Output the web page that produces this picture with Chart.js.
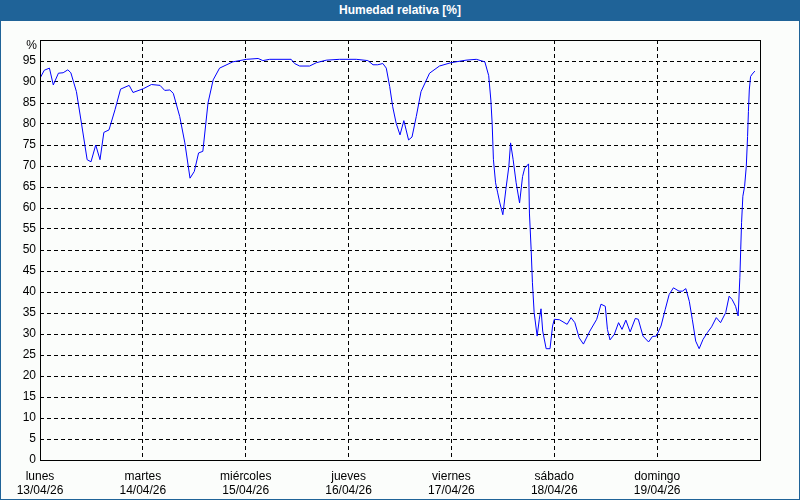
<!DOCTYPE html>
<html>
<head>
<meta charset="utf-8">
<script src="https://cdn.jsdelivr.net/npm/chart.js@4"></script>
<style>
    html, body { margin: 0; padding: 0; background: #fbfdfb; }
    #frame {
        position: absolute; left: 0; top: 0;
        width: 800px; height: 500px; box-sizing: border-box;
        border: 1px solid #1f6398; border-top: none;
        background: #fbfdfb;
    }
    #title {
        position: absolute; left: -1px; top: 0; width: 800px; height: 21px;
        background: #1f6398; color: #ffffff;
        font: bold 12px "Liberation Sans", Arial, sans-serif;
        text-align: center; line-height: 21px;
    }
    #chart { position: absolute; left: 0; top: 21px; }
</style>
</head>
<body>
<div id="frame">
    <div id="title">Humedad relativa [%]</div>
    <canvas id="chart" width="798" height="478"></canvas>
</div>
<script>
// hours since Monday 13/04/26 00:00
const hours = [
    0, 1, 2.2, 3.1, 4.3, 5.4, 6.5, 7.2, 8.5, 9.7, 11, 11.9, 13, 14, 14.9, 16.1, 17.5, 18.8, 20.8, 21.7,
    24.1, 26, 28, 29.1, 30.3, 31.1, 32.6, 33.8, 35, 36, 37, 38, 39.2, 40.4, 41.9, 45,
    48.2, 50.9, 52, 53.6, 58.6, 59.4, 60.6, 62.9, 64.5, 66.8, 69.9,
    73.8, 76.5, 77.7, 78.8, 80, 80.8, 81.6, 82.3, 83.1, 84, 84.9, 86, 86.8, 87.8, 88.9, 90.9, 93.2, 95.9,
    99.4, 101.8, 103.8, 104.7, 105.2, 105.5, 105.8, 106.3, 106.8, 107.3, 108, 108.7, 109.4, 109.8,
    110.4, 111.1, 111.9, 112.6, 113.1, 114, 114.2, 114.6, 114.9, 115.3, 116, 116.5, 116.9, 117.3,
    118.1, 119, 119.6, 120, 121.2, 123, 123.9, 124.8, 125.8, 126.8, 128.3, 129.9, 130.9, 131.9,
    132.4, 133, 134, 135, 135.8, 136.7, 137.7, 138.9, 139.6, 140.7, 142, 142.9, 143.8,
    144.9, 145.9, 146.8, 147.8, 149.1, 149.9, 150.7, 151.5, 152.2, 153, 153.8, 154.7, 155.7,
    156.7, 157.8, 158.8, 160, 160.8, 161.5, 162.3, 162.9, 163.3, 163.5, 163.7, 164, 164.4,
    164.8, 165.1, 165.3, 165.5, 165.8, 166.2, 166.8
];

const humidity = [
    90.9, 92.8, 93.3, 89.3, 92.1, 92.2, 92.9, 92.2, 87.7, 80.0, 71.5, 71.0, 75.0, 71.5, 78.0, 78.6, 83.4, 88.3, 89.2, 87.5,
    88.4, 89.4, 89.2, 88.0, 88.1, 87.3, 81.8, 75.5, 67.1, 68.7, 73.1, 73.5, 85.0, 90.5, 93.3, 94.8,
    95.4, 95.6, 95.1, 95.4, 95.4, 94.4, 93.8, 93.8, 94.6, 95.2, 95.4,
    95.4, 95.1, 94.1, 94.1, 94.4, 93.3, 88.9, 84.1, 80.2, 77.4, 80.8, 76.2, 76.9, 81.8, 87.7, 92.1, 93.8, 94.6,
    95.2, 95.4, 94.8, 91.5, 85.7, 80.2, 71.5, 66.0, 63.6, 61.2, 58.4, 64.4, 69.9, 75.5,
    71.5, 66.0, 61.2, 67.5, 69.5, 70.5, 58.8, 50.1, 42.2, 35.1, 29.5, 33.5, 36.0, 30.7,
    26.5, 26.5, 31.9, 33.5, 33.4, 32.3, 33.9, 32.7, 29.1, 27.6, 30.7, 33.5, 37.1, 36.6,
    31.1, 28.6, 29.9, 32.7, 31.1, 33.3, 30.5, 33.7, 33.5, 29.5, 28.1, 29.4, 29.5,
    31.9, 35.9, 39.4, 41.0, 40.2, 40.2, 40.8, 37.8, 33.5, 28.3, 26.5, 28.7, 30.3,
    31.7, 33.9, 32.7, 35.1, 39.0, 38.2, 36.6, 34.3, 43.4, 50.1, 56.5, 62.8, 65.1,
    69.9, 77.0, 83.0, 88.1, 91.3, 91.9, 92.6
];

const dayNames = ['lunes', 'martes', 'miércoles', 'jueves', 'viernes', 'sábado', 'domingo'];
const dayDates = ['13/04/26', '14/04/26', '15/04/26', '16/04/26', '17/04/26', '18/04/26', '19/04/26'];
const unitLabel = '%';

const points = hours.map((h, i) => ({ x: h, y: humidity[i] }));

const tickFont = { family: '"Liberation Sans", Arial, sans-serif', size: 12 };

const frameBox = {
    id: 'frameBox',
    afterDraw(chart) {
        const { ctx, chartArea, scales } = chart;
        ctx.save();
        ctx.strokeStyle = '#000000';
        ctx.lineWidth = 1;
        ctx.setLineDash([]);
        ctx.strokeRect(Math.round(chartArea.left) + 0.5, Math.round(chartArea.top) + 0.5,
            Math.round(chartArea.right - chartArea.left), Math.round(chartArea.bottom - chartArea.top));
        // unit label, just under the top of the y axis
        ctx.fillStyle = '#000000';
        ctx.font = '12px "Liberation Sans", Arial, sans-serif';
        ctx.textAlign = 'right';
        ctx.textBaseline = 'middle';
        ctx.fillText(unitLabel, chartArea.left - 3, scales.y.getPixelForValue(100) + 6);
        ctx.restore();
    }
};

new Chart(document.getElementById('chart').getContext('2d'), {
    type: 'line',
    data: {
        datasets: [{
            data: points,
            borderColor: '#0000ff',
            borderWidth: 1,
            pointRadius: 0,
            tension: 0,
            fill: false
        }]
    },
    options: {
        responsive: false,
        animation: false,
        layout: { padding: { left: 0, right: 39, top: 19, bottom: 0 } },
        plugins: {
            legend: { display: false },
            tooltip: { enabled: false }
        },
        scales: {
            x: {
                type: 'linear',
                min: 0,
                max: 168,
                afterFit(scale) { scale.height = 39; },
                grid: {
                    color: ctx => (ctx.tick && ctx.tick.value > 0 && ctx.tick.value < 168) ? '#000000' : 'rgba(0,0,0,0)',
                    lineWidth: 1,
                    drawTicks: false
                },
                border: { display: false, dash: [4, 3] },
                ticks: {
                    stepSize: 24,
                    autoSkip: false,
                    maxRotation: 0,
                    padding: 9,
                    color: '#000000',
                    font: tickFont,
                    callback: v => {
                        const i = Math.round(v / 24);
                        return i < dayNames.length ? [dayNames[i], dayDates[i]] : '';
                    }
                }
            },
            y: {
                min: 0,
                max: 100,
                afterFit(scale) { scale.width = 39; },
                grid: {
                    color: ctx => (ctx.tick && ctx.tick.value > 0 && ctx.tick.value < 100) ? '#000000' : 'rgba(0,0,0,0)',
                    lineWidth: 1,
                    drawTicks: false
                },
                border: { display: false, dash: [4, 3] },
                ticks: {
                    stepSize: 5,
                    autoSkip: false,
                    padding: 4,
                    color: '#000000',
                    font: tickFont,
                    callback: v => v === 100 ? '' : v
                }
            }
        }
    },
    plugins: [frameBox]
});
</script>
</body>
</html>
